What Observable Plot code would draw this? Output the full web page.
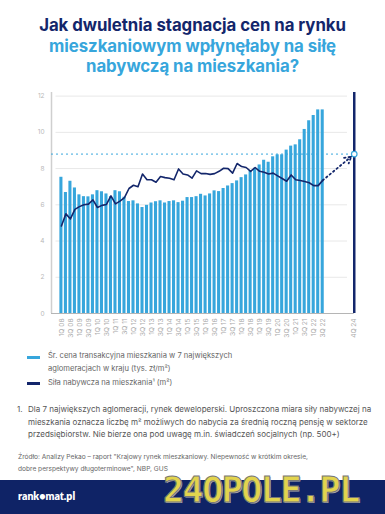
<!DOCTYPE html>
<html><head><meta charset="utf-8">
<script src="https://cdn.jsdelivr.net/npm/d3@7"></script>
<script src="https://cdn.jsdelivr.net/npm/@observablehq/plot@0.6"></script>
<style>
html,body{margin:0;padding:0}
body{width:385px;height:514px;overflow:hidden;background:#fff;position:relative;font-family:Inter,"Open Sans",sans-serif}
#title{position:absolute;left:0;top:15px;width:385px;text-align:center;font-weight:700;font-size:16.8px;line-height:20.5px;letter-spacing:-0.05px}
#title .a{color:#13266b}
#title .b{color:#37a6dc}
#chart{position:absolute;left:0;top:85px}
.leg{position:absolute;left:48px;font-size:7.6px;line-height:12.5px;color:#666}
.sw{position:absolute;left:27px;width:13px;height:3px}
#note{position:absolute;left:17px;top:403px;width:360px;font-size:8px;line-height:12.5px;color:#555}
#note .n{position:absolute;left:0}
#note .t{margin-left:11px}
#src{position:absolute;left:18px;top:452px;font-size:6.6px;line-height:11.5px;color:#666}
#foot{position:absolute;left:0;top:480px;width:385px;height:34px;background:#0f2366}
#brand{position:absolute;left:18px;top:490px;color:#fff;font-weight:800;font-size:10.5px;font-family:Lato,Inter,sans-serif}
#wm{position:absolute;left:163px;top:470px;font-family:"DejaVu Sans Mono",monospace;font-weight:700;font-size:35px;color:#e2d44e;letter-spacing:-1.5px;-webkit-text-stroke:1px #777;text-shadow:1px 1px 0 #aaa}
</style></head>
<body>
<div id="title"><div class="a">Jak dwuletnia stagnacja cen na rynku</div><div class="b">mieszkaniowym wpłynęłaby na siłę</div><div class="b">nabywczą na mieszkania?</div></div>
<div id="chart"></div>
<div class="sw" style="top:356px;background:#37a6dc"></div>
<div class="leg" style="top:350px">Śr. cena transakcyjna mieszkania w 7 największych<br>aglomeracjach w kraju (tys. zł/m²)</div>
<div class="sw" style="top:382px;background:#13266b"></div>
<div class="leg" style="top:377px">Siła nabywcza na mieszkania¹ (m²)</div>
<div id="note"><span class="n">1.</span><div class="t">Dla 7 największych aglomeracji, rynek deweloperski. Uproszczona miara siły nabywczej na mieszkania oznacza liczbę m² możliwych do nabycia za średnią roczną pensję w sektorze przedsiębiorstw. Nie bierze ona pod uwagę m.in. świadczeń socjalnych (np. 500+)</div></div>
<div id="src">Źródło: Analizy Pekao – raport "Krajowy rynek mieszkaniowy. Niepewność w krótkim okresie,<br>dobre perspektywy długoterminowe", NBP, GUS</div>
<div id="foot"></div>
<div id="brand">rank●mat.pl</div>
<div id="wm">24OPOLE.PL</div>
<script>
const quarters = [
"1Q 08","2Q 08","3Q 08","4Q 08","1Q 09","2Q 09","3Q 09","4Q 09",
"1Q 10","2Q 10","3Q 10","4Q 10","1Q 11","2Q 11","3Q 11","4Q 11",
"1Q 12","2Q 12","3Q 12","4Q 12","1Q 13","2Q 13","3Q 13","4Q 13",
"1Q 14","2Q 14","3Q 14","4Q 14","1Q 15","2Q 15","3Q 15","4Q 15",
"1Q 16","2Q 16","3Q 16","4Q 16","1Q 17","2Q 17","3Q 17","4Q 17",
"1Q 18","2Q 18","3Q 18","4Q 18","1Q 19","2Q 19","3Q 19","4Q 19",
"1Q 20","2Q 20","3Q 20","4Q 20","1Q 21","2Q 21","3Q 21","4Q 21",
"1Q 22","2Q 22","3Q 22"];
const price = [
7.52,6.68,7.30,6.93,6.55,6.45,6.44,6.55,6.78,6.72,6.60,6.45,6.78,6.72,6.42,6.18,
6.22,6.05,5.85,5.97,6.10,6.17,6.22,6.10,6.18,6.22,6.12,6.20,6.40,6.40,6.45,6.58,
6.49,6.60,6.77,6.73,6.90,7.04,7.17,7.32,7.50,7.65,7.87,8.02,8.20,8.46,8.35,8.65,
8.76,8.76,9.02,9.24,9.31,9.59,10.16,10.64,10.93,11.24,11.24];
const power = [
4.83,5.50,5.22,5.75,5.90,6.00,6.04,6.27,5.85,5.97,6.02,6.49,6.05,6.20,6.40,6.90,
7.08,7.00,7.70,7.38,7.38,7.25,7.56,7.50,7.47,7.38,7.98,7.70,7.65,7.47,7.87,7.72,
7.73,7.68,7.72,7.85,8.02,8.00,7.75,8.28,8.11,8.06,7.85,8.06,7.85,7.80,7.70,7.75,
7.60,7.45,7.30,7.65,7.38,7.34,7.29,7.22,7.06,7.06,7.35];
const projLabel = "4Q 24";
const projQuarterGap = 7;   // visual gap (in quarter slots) before the 4Q 24 marker
const projValue = 8.8;
const yTicks = [0,2,4,6,8,10,12];

const data = quarters.map((q,i)=>({q, i, price: price[i], power: power[i]}));
const last = data[data.length-1];
const projX = last.i + projQuarterGap;
const tickPos = data.filter(d=>d.i%2===0).map(d=>d.i).concat([projX]);
const tickText = new Map(data.map(d=>[d.i,d.q])); tickText.set(projX, projLabel);

const blue="#37a6dc", navy="#13266b";
const chart = Plot.plot({
  width: 385, height: 265,
  marginLeft: 51, marginRight: 29, marginTop: 7, marginBottom: 37,
  style:{fontFamily:"Inter, 'Open Sans', sans-serif", background:"transparent"},
  x:{type:"linear", domain:[-2.2, projX+0.5], axis:null},
  y:{domain:[0,12.2], axis:null},
  marks:[
    Plot.ruleY(yTicks.filter(v=>v>0), {x1:-1.2, x2:projX-1.5, stroke:"#e8e8e8", strokeWidth:1}),
    Plot.ruleY([0], {x1:-2.2, x2:projX, stroke:"#b5b5b5", strokeWidth:1.2}),
    Plot.ruleX([-2.2], {y1:0, y2:12.2, stroke:"#cfcfcf", strokeWidth:1.5}),
    Plot.text(yTicks, {x:-2.2, y:d=>d, text:d=>String(d), dx:-7, textAnchor:"end", fill:"#b8b8b8", fontSize:6.5}),
    Plot.text(tickPos, {x:d=>d, y:0, text:d=>tickText.get(d), rotate:-90, textAnchor:"end", dy:5, fill:"#aaa", fontSize:6.6}),
    Plot.rectY(data, {x1:d=>d.i-0.34, x2:d=>d.i+0.34, y:"price", fill:blue}),
    Plot.ruleY([projValue], {x1:-2.2, x2:projX, stroke:blue, strokeWidth:1, strokeDasharray:"2,3"}),
    Plot.lineY(data, {x:"i", y:"power", stroke:navy, strokeWidth:1.6, curve:"linear"}),
    Plot.ruleX([projX], {y1:0, y2:12.2, stroke:navy, strokeWidth:2.5}),
    Plot.arrow([{x1:last.i, y1:last.power, x2:projX, y2:projValue}], {x1:"x1",y1:"y1",x2:"x2",y2:"y2", stroke:navy, strokeWidth:1.8, strokeDasharray:"1.5,3", headLength:6, insetEnd:4}),
    Plot.dot([projValue], {x:projX, y:d=>d, r:2.8, stroke:blue, fill:"#fff", strokeWidth:1.2})
  ]
});
document.getElementById("chart").appendChild(chart);
</script>
</body></html>
